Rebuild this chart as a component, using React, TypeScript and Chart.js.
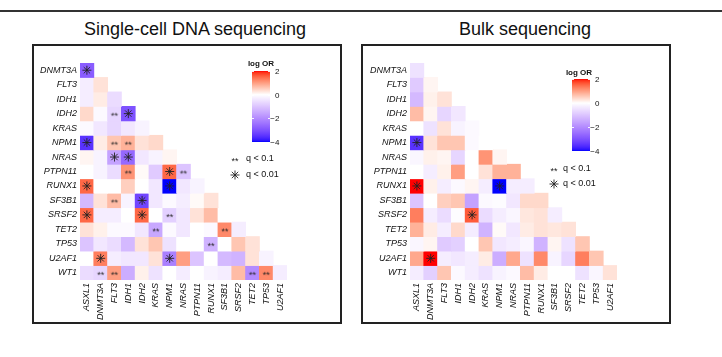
import React, { useEffect, useRef } from "react";
import { Chart, registerables } from "chart.js";

Chart.register(...registerables);

const FONT = '"Liberation Sans", Arial, Helvetica, sans-serif';

const columnGenes = ["ASXL1", "DNMT3A", "FLT3", "IDH1", "IDH2", "KRAS", "NPM1", "NRAS", "PTPN11", "RUNX1", "SF3B1", "SRSF2", "TET2", "TP53", "U2AF1"];
const rowGenes = ["DNMT3A", "FLT3", "IDH1", "IDH2", "KRAS", "NPM1", "NRAS", "PTPN11", "RUNX1", "SF3B1", "SRSF2", "TET2", "TP53", "U2AF1", "WT1"];

// lower triangle: row i holds the log OR against columnGenes[0..i]
const singleCellLogOR = [
  [-2.8],
  [-0.3, 0.3],
  [-0.3, 0.2, -0.6],
  [0.4, -0.1, -0.7, -3.0],
  [-0.1, -0.4, -0.7, -0.4, -0.2],
  [-3.5, 0.2, 0.6, 0.8, 0.3, 0.4],
  [0.1, -0.2, -1.6, -2.6, -0.4, -0.2, 0.1],
  [0.0, -0.2, -0.6, 1.1, 0.05, -0.9, 1.5, -1.0],
  [1.5, 0.0, 0.0, 0.5, 0.0, -0.4, -4.0, -0.4, -0.2],
  [-1.2, 0.3, 0.7, -0.2, -3.2, -0.4, -0.1, -0.3, 0.05, 0.3],
  [1.5, -0.3, -0.3, 0.0, 1.5, 0.0, -0.8, -0.4, 0.3, 0.7, 0.0],
  [0.3, 0.15, -0.1, -0.1, -0.4, -1.5, -0.1, -0.4, 0.0, -0.1, 1.2, -0.3],
  [-1.0, -0.4, -0.6, -1.2, 0.3, 0.6, -0.5, 0.0, 0.0, -1.3, 0.0, 0.6, 0.3],
  [0.0, 1.3, -0.3, -0.4, -0.4, 0.3, -2.2, 1.0, -1.0, 0.0, -1.2, -1.3, 0.3, -0.2],
  [-0.6, -0.7, 1.0, -1.4, 0.15, -0.5, 0.0, -0.3, 0.0, -0.2, -0.3, 0.7, -2.0, 1.2, -0.3],
];

const bulkLogOR = [
  [-0.5],
  [-0.9, 0.1],
  [-1.2, 0.15, 0.3],
  [0.7, 0.1, -0.7, -0.4],
  [0.0, -0.5, 0.3, -0.2, -0.1],
  [-3.5, 0.3, 0.6, 0.6, -0.1, 0.0],
  [-0.15, 0.15, 0.1, -0.7, 0.0, 1.1, 0.1],
  [0.0, -0.3, 0.15, 1.0, 0.0, 0.3, 0.8, 0.8],
  [2.0, 0.15, -0.3, -0.1, 0.1, -0.3, -4.0, -0.3, -0.3],
  [-1.0, 0.0, 0.5, 0.6, -1.6, -0.1, -0.05, -0.4, 0.4, 0.4],
  [1.3, -0.3, -0.6, -0.05, 1.6, -0.6, -0.3, -0.15, 0.25, 0.3, -0.3],
  [0.8, 0.2, -0.3, 0.4, -0.3, -1.3, 0.05, -0.4, 0.2, 0.3, 0.25, 0.3],
  [-0.15, 0.1, -0.9, -0.8, 0.0, 0.6, -0.4, -0.3, -0.15, -1.3, 0.1, -0.5, 0.6],
  [0.9, 2.0, -0.3, -0.4, -0.3, 0.2, -1.4, 0.9, -0.5, 1.2, -0.2, -0.7, 1.3, 0.6],
  [-0.3, -0.8, 0.6, -0.1, -0.3, -0.5, -0.2, -0.1, 0.7, 0.2, 0.0, 0.0, -0.5, -0.15, 0.3],
];

// significance marks: [row gene, column gene]
const singleCellQ001 = [
  ["DNMT3A", "ASXL1"], ["IDH2", "IDH1"], ["NPM1", "ASXL1"], ["NRAS", "FLT3"], ["NRAS", "IDH1"],
  ["PTPN11", "NPM1"], ["RUNX1", "ASXL1"], ["RUNX1", "NPM1"], ["SF3B1", "IDH2"], ["SRSF2", "ASXL1"],
  ["SRSF2", "IDH2"], ["U2AF1", "DNMT3A"], ["U2AF1", "NPM1"],
];
const singleCellQ01 = [
  ["IDH2", "FLT3"], ["NPM1", "FLT3"], ["NPM1", "IDH1"], ["PTPN11", "IDH1"], ["PTPN11", "NRAS"],
  ["SF3B1", "FLT3"], ["SRSF2", "NPM1"], ["TET2", "KRAS"], ["TET2", "SF3B1"], ["TP53", "RUNX1"],
  ["WT1", "DNMT3A"], ["WT1", "FLT3"], ["WT1", "TET2"], ["WT1", "TP53"],
];
const bulkQ001 = [
  ["NPM1", "ASXL1"], ["RUNX1", "ASXL1"], ["RUNX1", "NPM1"], ["SRSF2", "IDH2"], ["U2AF1", "DNMT3A"],
];
const bulkQ01: string[][] = [];

const legendTicks = [2, 0, -2, -4];
const panelTitles = ["Single-cell DNA sequencing", "Bulk sequencing"];

// ---------- colour ramp (LAB interpolation blue - white - red) ----------
const LOW_RGB = [0, 0, 255];
const MID_RGB = [255, 255, 255];
const HIGH_RGB = [255, 0, 0];

function rgb2lab(rgb: number[]) {
  const lin = (c: number) => {
    c /= 255;
    return c <= 0.04045 ? c / 12.92 : Math.pow((c + 0.055) / 1.055, 2.4);
  };
  const R = lin(rgb[0]), G = lin(rgb[1]), B = lin(rgb[2]);
  const X = (0.4124564 * R + 0.3575761 * G + 0.1804375 * B) / 0.95047;
  const Y = 0.2126729 * R + 0.7151522 * G + 0.072175 * B;
  const Z = (0.0193339 * R + 0.119192 * G + 0.9503041 * B) / 1.08883;
  const f = (t: number) => (t > 0.008856 ? Math.cbrt(t) : 7.787 * t + 16 / 116);
  return [116 * f(Y) - 16, 500 * (f(X) - f(Y)), 200 * (f(Y) - f(Z))];
}
function lab2rgb(lab: number[]) {
  const fy = (lab[0] + 16) / 116;
  const fx = fy + lab[1] / 500;
  const fz = fy - lab[2] / 200;
  const finv = (t: number) => (t * t * t > 0.008856 ? t * t * t : (t - 16 / 116) / 7.787);
  const X = finv(fx) * 0.95047, Y = finv(fy), Z = finv(fz) * 1.08883;
  const lr = 3.2404542 * X - 1.5371385 * Y - 0.4985314 * Z;
  const lg = -0.969266 * X + 1.8760108 * Y + 0.041556 * Z;
  const lb = 0.0556434 * X - 0.2040259 * Y + 1.0572252 * Z;
  const g = (c: number) => {
    const v = c <= 0.0031308 ? 12.92 * c : 1.055 * Math.pow(c, 1 / 2.4) - 0.055;
    return Math.round(Math.max(0, Math.min(1, v)) * 255);
  };
  return [g(lr), g(lg), g(lb)];
}
const LAB_LOW = rgb2lab(LOW_RGB);
const LAB_MID = rgb2lab(MID_RGB);
const LAB_HIGH = rgb2lab(HIGH_RGB);

function colorFor(v: number) {
  const lo = legendTicks[legendTicks.length - 1];
  const hi = legendTicks[0];
  const x = Math.max(lo, Math.min(hi, v));
  const target = x < 0 ? LAB_LOW : LAB_HIGH;
  const t = x < 0 ? x / lo : x / hi;
  const lab = [0, 1, 2].map((k) => LAB_MID[k] + (target[k] - LAB_MID[k]) * t);
  const [r, g, b] = lab2rgb(lab);
  return `rgb(${r},${g},${b})`;
}

// ---------- marker images ----------
function makeDoubleStar() {
  const c = document.createElement("canvas");
  c.width = 12;
  c.height = 10;
  const ctx = c.getContext("2d")!;
  ctx.fillStyle = "#222";
  ctx.font = `9px ${FONT}`;
  ctx.textAlign = "center";
  ctx.textBaseline = "alphabetic";
  ctx.fillText("**", 6, 10);
  return c;
}

function drawStar(ctx: CanvasRenderingContext2D, x: number, y: number, r: number) {
  ctx.beginPath();
  for (let k = 0; k < 4; k++) {
    const a = (k * Math.PI) / 4;
    ctx.moveTo(x - Math.cos(a) * r, y - Math.sin(a) * r);
    ctx.lineTo(x + Math.cos(a) * r, y + Math.sin(a) * r);
  }
  ctx.stroke();
}

const heatLegendPlugin = {
  id: "heatLegend",
  afterDraw(chart: any, _args: any, opts: any) {
    const ctx: CanvasRenderingContext2D = chart.ctx;
    const { barLeft, barTop, barWidth, barHeight, titleX, titleY, sigX, sigTextX, sigY1, sigY2, doubleStar } = opts;
    const hi = legendTicks[0];
    const lo = legendTicks[legendTicks.length - 1];
    ctx.save();
    const grad = ctx.createLinearGradient(0, barTop, 0, barTop + barHeight);
    const n = 48;
    for (let k = 0; k <= n; k++) {
      grad.addColorStop(k / n, colorFor(hi - ((hi - lo) * k) / n));
    }
    ctx.fillStyle = grad;
    ctx.fillRect(barLeft, barTop, barWidth, barHeight);
    ctx.strokeStyle = "rgba(255,255,255,0.9)";
    ctx.lineWidth = 1;
    ctx.font = `8px ${FONT}`;
    ctx.textBaseline = "middle";
    legendTicks.forEach((t) => {
      const y = Math.round(barTop + ((hi - t) / (hi - lo)) * barHeight) + 0.5;
      ctx.beginPath();
      ctx.moveTo(barLeft, y);
      ctx.lineTo(barLeft + 2, y);
      ctx.moveTo(barLeft + barWidth - 2, y);
      ctx.lineTo(barLeft + barWidth, y);
      ctx.stroke();
      ctx.fillStyle = "#111";
      const digitX = barLeft + barWidth + 5;
      ctx.textAlign = "left";
      ctx.fillText(String(Math.abs(t)), digitX, y);
      if (t < 0) {
        ctx.textAlign = "right";
        ctx.fillText("\u2212", digitX, y);
      }
    });
    ctx.fillStyle = "#111";
    ctx.font = `bold 8px ${FONT}`;
    ctx.textAlign = "center";
    ctx.textBaseline = "middle";
    ctx.fillText("log OR", titleX, titleY);

    ctx.drawImage(doubleStar, sigX - doubleStar.width / 2, sigY1 - doubleStar.height / 2);
    ctx.strokeStyle = "#222";
    ctx.lineWidth = 0.9;
    drawStar(ctx, sigX, sigY2, 4.5);
    ctx.fillStyle = "#111";
    ctx.font = `9px ${FONT}`;
    ctx.textAlign = "left";
    ctx.fillText("q < 0.1", sigTextX, sigY1);
    ctx.fillText("q < 0.01", sigTextX, sigY2);
    ctx.restore();
  },
};

function buildConfig(values: number[][], q001: string[][], q01: string[][], layout: any, doubleStar: HTMLCanvasElement) {
  const cellDatasets: any[] = rowGenes.map((rowGene, i) => ({
    type: "bar",
    label: rowGene,
    data: values[i].map((_, j) => ({ x: columnGenes[j], y: [i - 0.5, i + 0.5] })),
    backgroundColor: values[i].map(colorFor),
    borderWidth: 0,
    grouped: false,
    barPercentage: 1,
    categoryPercentage: 1,
    inflateAmount: 0.4,
    order: 2,
  }));
  const toPoints = (pairs: string[][]) => pairs.map(([r, c]) => ({ x: c, y: rowGenes.indexOf(r) }));
  cellDatasets.push({
    type: "scatter",
    label: "q < 0.01",
    data: toPoints(q001),
    pointStyle: "star",
    pointRadius: 4.5,
    borderColor: "#222",
    backgroundColor: "#222",
    borderWidth: 0.9,
    order: 0,
  });
  cellDatasets.push({
    type: "scatter",
    label: "q < 0.1",
    data: toPoints(q01),
    pointStyle: doubleStar,
    pointRadius: 5,
    order: 0,
  });
  const tickFont = { family: FONT, size: 9, style: "italic" as const };
  return {
    type: "bar" as const,
    data: { labels: columnGenes, datasets: cellDatasets },
    plugins: [heatLegendPlugin],
    options: {
      animation: false as const,
      responsive: false,
      maintainAspectRatio: false,
      events: [],
      layout: { padding: layout.padding },
      plugins: {
        legend: { display: false },
        tooltip: { enabled: false },
        title: { display: false },
        heatLegend: { ...layout.legend, doubleStar },
      },
      scales: {
        x: {
          type: "category" as const,
          offset: true,
          grid: { display: false, drawTicks: false, tickLength: 0 },
          border: { display: false },
          ticks: { autoSkip: false, minRotation: 90, maxRotation: 90, padding: 3, color: "#111", font: tickFont },
          afterFit: (s: any) => {
            s.height = layout.xAxisHeight;
          },
        },
        y: {
          type: "linear" as const,
          reverse: true,
          min: -0.5,
          max: 14.5,
          grid: { display: false, drawTicks: false, tickLength: 0 },
          border: { display: false },
          afterBuildTicks: (s: any) => {
            s.ticks = rowGenes.map((_, i) => ({ value: i }));
          },
          ticks: {
            autoSkip: false,
            padding: 3,
            color: "#111",
            font: tickFont,
            callback: (v: any) => rowGenes[Math.round(Number(v))],
          },
          afterFit: (s: any) => {
            s.width = layout.yAxisWidth;
          },
        },
      },
    },
  };
}

const CANVAS_W = 302;
const CANVAS_H = 275;

const panelLayouts = [
  {
    left: 36,
    top: 46,
    padding: { left: 0, top: 17, right: 51, bottom: 0 },
    yAxisWidth: 44,
    xAxisHeight: 41,
    legend: { barLeft: 216, barTop: 25, barWidth: 18, barHeight: 71, titleX: 225, titleY: 18, sigX: 199, sigTextX: 210, sigY1: 113, sigY2: 129 },
  },
  {
    left: 365,
    top: 46,
    padding: { left: 0, top: 17, right: 50, bottom: 0 },
    yAxisWidth: 45,
    xAxisHeight: 41,
    legend: { barLeft: 207, barTop: 33, barWidth: 18, barHeight: 72, titleX: 214, titleY: 27, sigX: 189, sigTextX: 198, sigY1: 123, sigY2: 138 },
  },
];

function HeatPanel(props: { values: number[][]; q001: string[][]; q01: string[][]; layout: any }) {
  const ref = useRef<HTMLCanvasElement | null>(null);
  useEffect(() => {
    if (!ref.current) return;
    const chart = new Chart(ref.current, buildConfig(props.values, props.q001, props.q01, props.layout, makeDoubleStar()) as any);
    return () => chart.destroy();
  }, []);
  return (
    <canvas
      ref={ref}
      width={CANVAS_W}
      height={CANVAS_H}
      style={{ position: "absolute", left: props.layout.left, top: props.layout.top, width: CANVAS_W, height: CANVAS_H }}
    />
  );
}

export default function App() {
  const boxStyle = (left: number): React.CSSProperties => ({
    position: "absolute",
    left,
    top: 44,
    width: 310,
    height: 280,
    border: "2px solid #222",
    boxSizing: "border-box",
  });
  const titleStyle = (center: number): React.CSSProperties => ({
    position: "absolute",
    left: center - 160,
    width: 320,
    top: 19,
    lineHeight: "20px",
    fontSize: 18,
    fontFamily: FONT,
    color: "#111",
    textAlign: "center",
    whiteSpace: "nowrap",
  });
  return (
    <div style={{ position: "absolute", left: 0, top: 0, width: 722, height: 357, background: "#fff", overflow: "hidden" }}>
      <div style={{ position: "absolute", left: 0, top: 10, width: 722, height: 2, background: "#333" }} />
      <div style={titleStyle(195)}>{panelTitles[0]}</div>
      <div style={titleStyle(525)}>{panelTitles[1]}</div>
      <div style={boxStyle(32)} />
      <div style={boxStyle(361)} />
      <HeatPanel values={singleCellLogOR} q001={singleCellQ001} q01={singleCellQ01} layout={panelLayouts[0]} />
      <HeatPanel values={bulkLogOR} q001={bulkQ001} q01={bulkQ01} layout={panelLayouts[1]} />
    </div>
  );
}
